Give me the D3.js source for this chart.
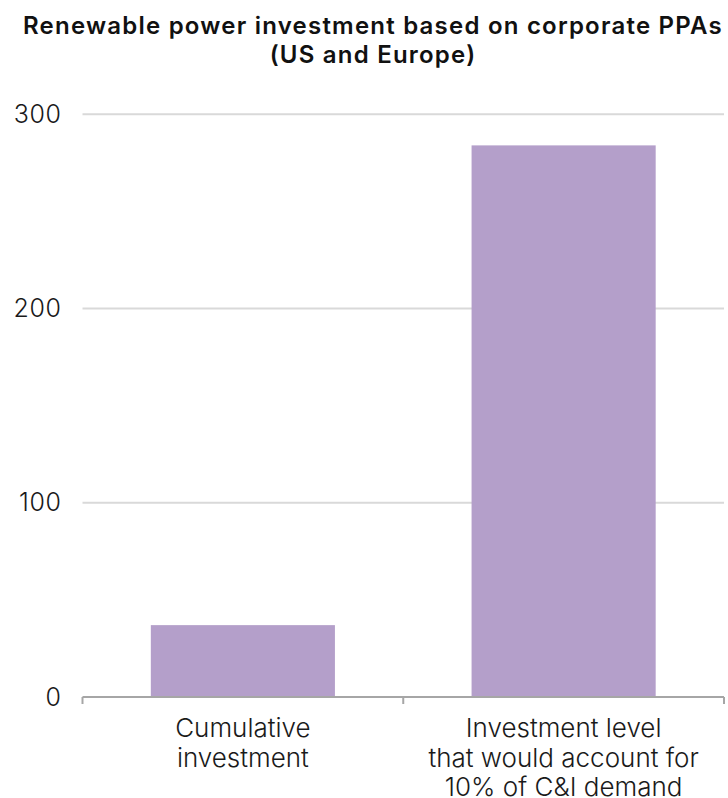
<!DOCTYPE html>
<html>
<head>
<meta charset="utf-8">
<script src="https://cdn.jsdelivr.net/npm/d3@7"></script>
<style>
  html, body { margin: 0; padding: 0; background: #fff; }
  svg { display: block; }
</style>
</head>
<body>
<svg id="chart" width="728" height="798"></svg>
<script>
const titleLines = ["Renewable power investment based on corporate PPAs", "(US and Europe)"];
const categories = ["Cumulative investment", "Investment level that would account for 10% of C&I demand"];
const categoryLines = [["Cumulative", "investment"], ["Investment level", "that would account for", "10% of C&I demand"]];
const values = [37, 284];
const yTicks = [0, 100, 200, 300];

const svg = d3.select("#chart");
const margin = { left: 82.5, right: 4, top: 114.3, bottom: 101 };
const W = 728, H = 798;

const x = d3.scaleBand()
  .domain(categories)
  .range([margin.left, W - margin.right])
  .paddingInner(0.426)
  .paddingOuter(0.213);

const y = d3.scaleLinear()
  .domain([0, 300])
  .range([H - margin.bottom, margin.top]);

// Title
const titles = svg.append("g").selectAll("text")
  .data(titleLines)
  .join("text")
  .attr("x", 373)
  .attr("y", (d, i) => 34 + i * 29)
  .attr("text-anchor", "middle")
  .attr("font-family", "Inter, 'Noto Sans', sans-serif")
  .attr("font-weight", 600)
  .attr("font-size", 24)
  .attr("fill", "#111")
  .text(d => d);
// fit first line to the reference's width with letter spacing
{
  const t = titles.nodes()[0];
  const w = t.getComputedTextLength();
  const n = titleLines[0].length;
  const ls = (700 - w) / n;
  titles.attr("letter-spacing", ls > 0 ? ls : 0);
}

// Gridlines
svg.append("g")
  .selectAll("line")
  .data(yTicks.filter(d => d > 0))
  .join("line")
  .attr("x1", margin.left)
  .attr("x2", W - margin.right)
  .attr("y1", d => y(d))
  .attr("y2", d => y(d))
  .attr("stroke", "#d9d9d9")
  .attr("stroke-width", 2);

// Y axis labels
const yAxis = d3.axisLeft(y).tickValues(yTicks).tickSize(0).tickPadding(21);
const gy = svg.append("g").attr("transform", `translate(${margin.left},0)`).call(yAxis);
gy.select(".domain").remove();
gy.selectAll("text")
  .attr("font-family", "Inter, 'Noto Sans', sans-serif")
  .attr("font-weight", 300)
  .attr("font-size", 25)
  .attr("letter-spacing", 0.6)
  .attr("fill", "#1a1a1a");

// Bars
svg.append("g")
  .selectAll("rect")
  .data(values)
  .join("rect")
  .attr("x", (d, i) => x(categories[i]))
  .attr("width", x.bandwidth())
  .attr("y", d => y(d))
  .attr("height", d => y(0) - y(d))
  .attr("fill", "#b49fca");

// X axis
const baseY = y(0);
svg.append("line")
  .attr("x1", margin.left).attr("x2", W - margin.right)
  .attr("y1", baseY).attr("y2", baseY)
  .attr("stroke", "#a6a6a6").attr("stroke-width", 2);
const boundaries = [margin.left, ...categories.slice(1).map(c => x(c) - x.step() * x.paddingInner() / 2), W - margin.right];
svg.append("g").selectAll("line")
  .data(boundaries)
  .join("line")
  .attr("x1", d => d).attr("x2", d => d)
  .attr("y1", baseY).attr("y2", baseY + 7)
  .attr("stroke", "#a6a6a6").attr("stroke-width", 2);

// Category labels
const gl = svg.append("g");
categories.forEach((c, i) => {
  const cx = x(c) + x.bandwidth() / 2;
  gl.append("text")
    .attr("text-anchor", "middle")
    .attr("font-family", "Inter, 'Noto Sans', sans-serif")
    .attr("font-weight", 300)
    .attr("font-size", 26)
    .attr("fill", "#1a1a1a")
    .selectAll("tspan")
    .data(categoryLines[i])
    .join("tspan")
    .attr("x", cx)
    .attr("y", (d, j) => 737 + j * 29.5)
    .text(d => d);
});
</script>
</body>
</html>
